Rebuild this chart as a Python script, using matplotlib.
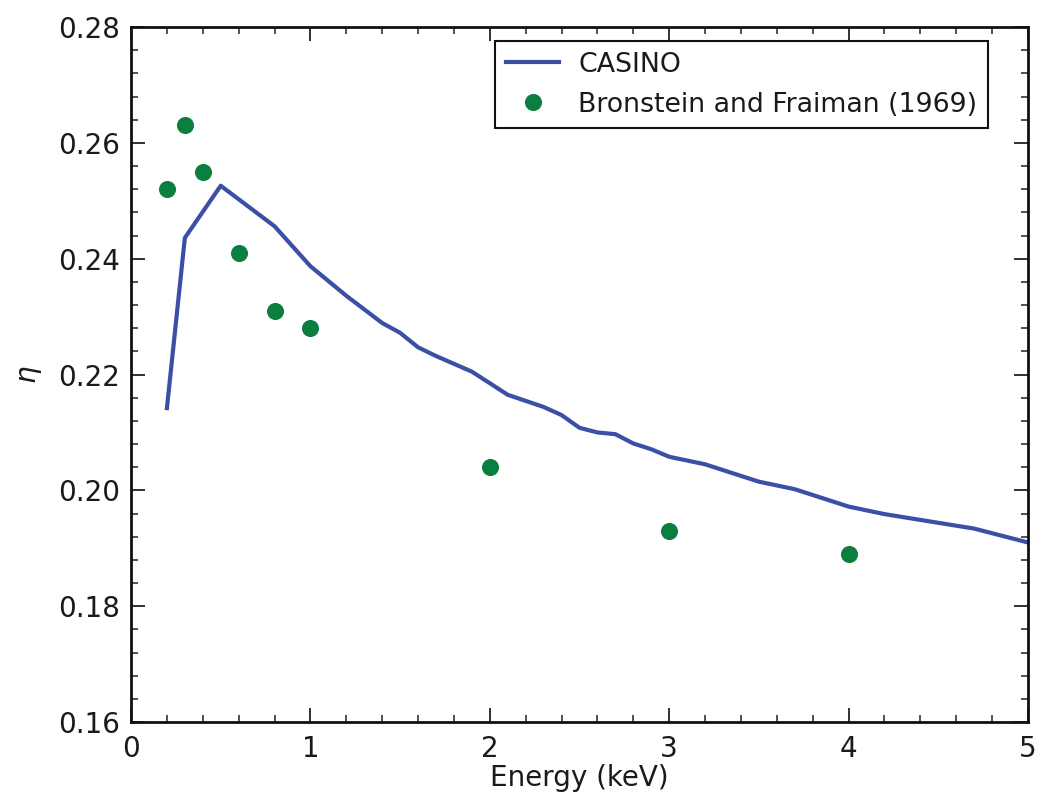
import matplotlib
matplotlib.use("Agg")
import matplotlib.pyplot as plt
from matplotlib.ticker import MultipleLocator, FormatStrFormatter

casino_energy = [0.2, 0.3, 0.5, 0.8, 1.0, 1.2, 1.4, 1.5, 1.6, 1.7, 1.9, 2.1, 2.3, 2.4, 2.5,
                 2.6, 2.7, 2.8, 2.9, 3.0, 3.2, 3.5, 3.7, 4.0, 4.2, 4.7, 5.0]
casino_eta = [0.2142, 0.2436, 0.2526, 0.2456, 0.2387, 0.2336, 0.2289, 0.2272, 0.2247, 0.2232,
              0.2205, 0.2165, 0.2144, 0.2130, 0.2108, 0.2100, 0.2097, 0.2081, 0.2071, 0.2058,
              0.2045, 0.2015, 0.2002, 0.1972, 0.1959, 0.1934, 0.1910]

exp_energy = [0.2, 0.3, 0.4, 0.6, 0.8, 1.0, 2.0, 3.0, 4.0]
exp_eta = [0.252, 0.263, 0.255, 0.241, 0.231, 0.228, 0.204, 0.193, 0.189]

fig = plt.figure(figsize=(10.5, 8.07), dpi=100)
ax = fig.add_axes([0.1248, 0.1053, 0.8542, 0.8612])

ax.plot(casino_energy, casino_eta, color="#3a4fa5", lw=3, label="CASINO")
ax.plot(exp_energy, exp_eta, "o", color="#0b7f3f", ms=12.3, mew=0,
        label="Bronstein and Fraiman (1969)")

ax.set_xlim(0, 5)
ax.set_ylim(0.16, 0.28)
ax.xaxis.set_major_locator(MultipleLocator(1))
ax.xaxis.set_minor_locator(MultipleLocator(0.2))
ax.yaxis.set_major_locator(MultipleLocator(0.02))
ax.yaxis.set_minor_locator(MultipleLocator(0.004))
ax.yaxis.set_major_formatter(FormatStrFormatter("%.2f"))

ax.tick_params(which="both", direction="in", top=True, right=True, labelsize=20,
               color="#222222", labelcolor="#1a1a1a")
ax.tick_params(which="major", length=10, width=1.3)
ax.tick_params(which="minor", length=5, width=1.1)
ax.tick_params(axis="x", which="major", pad=9)
ax.tick_params(axis="y", which="major", pad=8)
for s in ax.spines.values():
    s.set_linewidth(2)
    s.set_color("#111111")

ax.set_xlabel("Energy (keV)", fontsize=20, labelpad=1, color="#1a1a1a")
ax.set_ylabel(r"$\eta$", fontsize=20, labelpad=10, color="#1a1a1a")

leg = ax.legend(loc="upper right", bbox_to_anchor=(0.9554, 0.980), borderaxespad=0,
                fontsize=19.3, numpoints=1, fancybox=False, framealpha=1,
                handlelength=2.0, handletextpad=0.7, borderpad=0.4, labelspacing=0.52)
leg.get_frame().set_edgecolor("#111111")
leg.get_frame().set_linewidth(1.5)
for t in leg.get_texts():
    t.set_color("#1a1a1a")

fig.savefig("out.png", dpi=100)
